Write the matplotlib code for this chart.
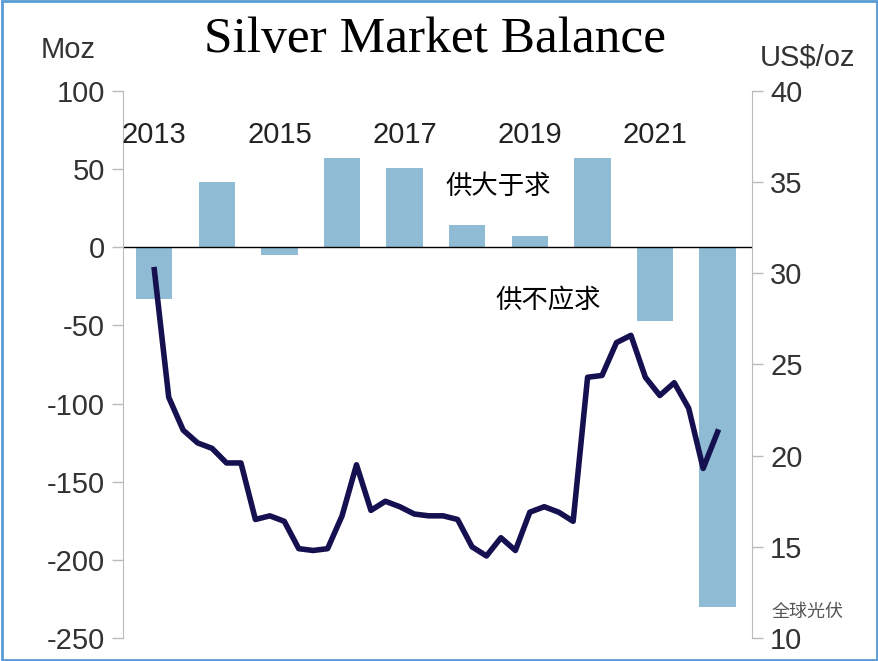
import matplotlib
matplotlib.use("Agg")
import matplotlib.pyplot as plt
import numpy as np

years = [2013, 2014, 2015, 2016, 2017, 2018, 2019, 2020, 2021, 2022]
balance = [-33, 42, -5, 57, 51, 14, 7, 57, -47, -230]
price = [30.2, 23.2, 21.4, 20.7, 20.4, 19.6, 19.6, 16.5, 16.7, 16.4, 14.9, 14.8, 14.9,
         16.7, 19.5, 17.0, 17.5, 17.2, 16.8, 16.7, 16.7, 16.5, 15.0, 14.5, 15.5, 14.8,
         16.9, 17.2, 16.9, 16.4, 24.3, 24.4, 26.2, 26.6, 24.3, 23.3, 24.0, 22.6, 19.3, 21.3]
year_labels = ["2013", "2015", "2017", "2019", "2021"]

plt.rcParams['font.family'] = ['Liberation Sans', 'Noto Sans CJK SC', 'DejaVu Sans']
plt.rcParams['axes.unicode_minus'] = False
fig = plt.figure(figsize=(8.79, 6.61), dpi=100)
ax = fig.add_axes([123/879, 1-638/661, (752-123)/879, (638-91)/661])
bc = '#8fbcd4'
ax.bar(years, balance, width=0.58, color=bc, zorder=1)
ax.set_ylim(-250, 100)
ax.set_xlim(2012.5, 2022.55)
ax.axhline(0, color='black', lw=1, zorder=2)
ax.set_yticks(range(-250, 101, 50))
ax.tick_params(axis='y', labelsize=21, colors='#333333', length=8, width=1, pad=5)
ax.tick_params(axis='y', color='#bbbbbb')
ax.set_xticks([])
for s in ['top', 'bottom', 'right']:
    ax.spines[s].set_visible(False)
ax.spines['left'].set_color('#bbbbbb')
for lab in year_labels:
    ax.text(int(lab), 72, lab, ha='center', va='center', fontsize=21, color='#222222')
ax.text(2018.5, 39, '供大于求', ha='center', va='center', fontsize=19, color='black')
ax.text(2019.3, -34, '供不应求', ha='center', va='center', fontsize=19, color='black')

ax2 = ax.twinx()
x = np.linspace(2013, 2022, len(price))
ax2.plot(x, price, color='#151050', lw=4, zorder=3)
ax2.set_ylim(10, 40)
ax2.set_yticks(range(10, 41, 5))
ax2.tick_params(axis='y', labelsize=21, colors='#333333', length=8, width=1, pad=5)
ax2.tick_params(axis='y', color='#bbbbbb')
for s in ['top', 'bottom', 'left']:
    ax2.spines[s].set_visible(False)
ax2.spines['right'].set_color('#bbbbbb')

fig.text(435/879, 1-40/661, 'Silver Market Balance', ha='center', va='center',
         fontsize=37, family=['Liberation Serif'])
fig.text(68/879, 1-50/661, 'Moz', ha='center', va='center', fontsize=21, color='#333333')
fig.text(808/879, 1-57/661, 'US$/oz', ha='center', va='center', fontsize=21, color='#333333')
fig.text(808/879, 1-612/661, '全球光伏', ha='center', va='center', fontsize=13, color='#555555')
fig.patches.append(plt.Rectangle((0.002, 0.002), 0.996, 0.996, transform=fig.transFigure,
                                 fill=False, edgecolor='#5b9bd5', lw=2))
fig.savefig('out.png', dpi=100)
